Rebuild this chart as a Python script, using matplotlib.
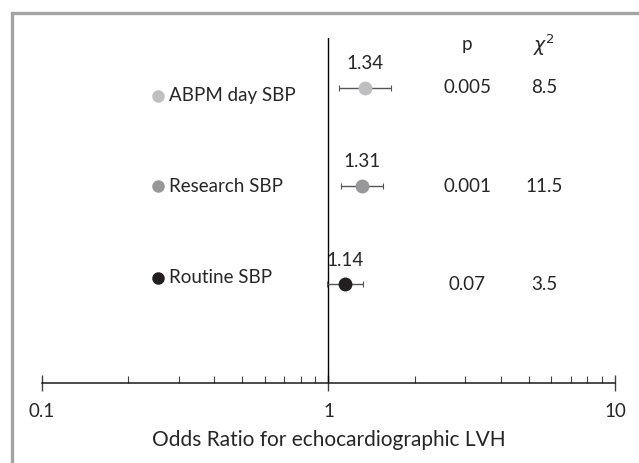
import matplotlib
matplotlib.use('Agg')
import matplotlib.pyplot as plt
from matplotlib.patches import Rectangle
import matplotlib.transforms as mtransforms

plt.rcParams['font.family'] = ['Lato', 'DejaVu Sans']

# data
labels = ['ABPM day SBP', 'Research SBP', 'Routine SBP']
odds = [1.34, 1.31, 1.14]
ci_low = [1.09, 1.11, 0.99]
ci_high = [1.65, 1.55, 1.32]
p_vals = ['0.005', '0.001', '0.07']
chi2 = ['8.5', '11.5', '3.5']
colors = ['#bfbfc1', '#98989a', '#231f20']

rows = [3, 2, 1]
label_rows = [2.92, 2.0, 1.07]
txt = '#262626'
fs = 13.5

fig = plt.figure(figsize=(6.39, 4.63), dpi=100)
ax = fig.add_axes([42/639, (463-382.7)/463, 573/639, 344.7/463])

# grey frame round the figure
fig.patches.append(Rectangle((11.5/639, -0.1), 1.2, 1.1 - 13.5/463,
                             transform=fig.transFigure, fill=False,
                             edgecolor='#a3a3a3', lw=2.4, clip_on=False))

ax.set_xscale('log')
ax.set_xlim(0.1, 10)
ax.set_ylim(0, 3.506)

ax.axvline(1, color='black', lw=1)

for i in range(3):
    ax.errorbar(odds[i], rows[i],
                xerr=[[odds[i] - ci_low[i]], [ci_high[i] - odds[i]]],
                fmt='o', ms=9, color=colors[i], mec=colors[i],
                ecolor='#555555', elinewidth=1, capsize=2.5, capthick=0.8,
                zorder=3)
    ax.annotate(f'{odds[i]:.2f}', (odds[i], rows[i]), xytext=(0, 17.5),
                textcoords='offset points', ha='center', va='center',
                fontsize=fs, color=txt)

# row labels with coloured dots
for i in range(3):
    ax.plot(0.254, label_rows[i], 'o', ms=8, color=colors[i], clip_on=False)
    ax.text(0.277, label_rows[i], labels[i], ha='left', va='center',
            fontsize=fs, color=txt)

tr = mtransforms.blended_transform_factory(ax.transAxes, ax.transData)
ax.text(0.742, 3.435, 'p', transform=tr, ha='center', va='center',
        fontsize=fs, color=txt)
ax.text(0.876, 3.435, r'$\chi^2$', transform=tr, ha='center', va='center',
        fontsize=fs, color=txt)
for i in range(3):
    ax.text(0.742, rows[i], p_vals[i], transform=tr, ha='center',
            va='center', fontsize=fs, color=txt)
    ax.text(0.876, rows[i], chi2[i], transform=tr, ha='center',
            va='center', fontsize=fs, color=txt)

for s in ['left', 'top', 'right']:
    ax.spines[s].set_visible(False)
ax.spines['bottom'].set_color('#1a1a1a')
ax.spines['bottom'].set_linewidth(1.1)
ax.set_yticks([])
ax.set_xticks([0.1, 1, 10])
ax.set_xticklabels(['0.1', '1', '10'])
ax.tick_params(axis='x', which='major', direction='inout', length=11,
               width=1, color='#404040', labelsize=fs, labelcolor=txt, pad=9)
ax.tick_params(axis='x', which='minor', direction='in', length=5,
               width=0.8, color='#404040', labelbottom=False)
ax.set_xlabel('Odds Ratio for echocardiographic LVH', fontsize=15,
              color=txt, labelpad=7)

fig.savefig('out.png', dpi=100)
